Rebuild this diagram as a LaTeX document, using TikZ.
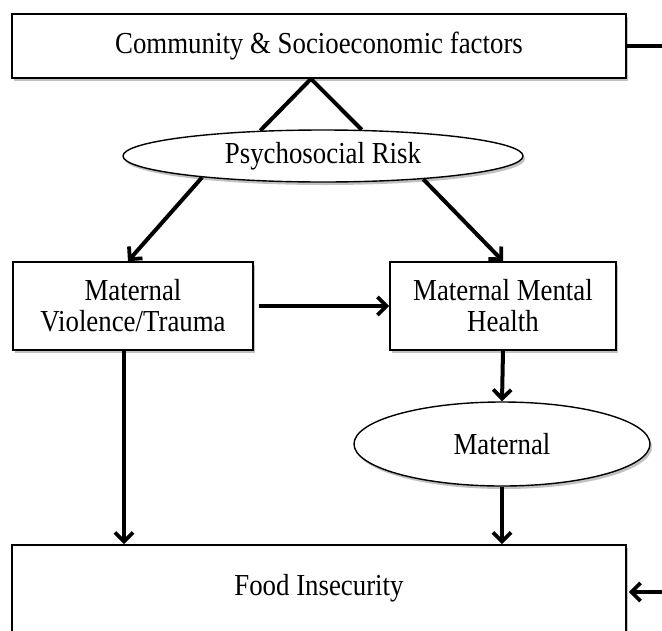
\documentclass[tikz,border=0pt]{standalone}
\usepackage{fontspec}
\setmainfont{Liberation Serif}[FakeStretch=0.88]
\usetikzlibrary{shapes.geometric,shadows,arrows.meta}
\begin{document}
\begin{tikzpicture}[x=1pt,y=-1pt,
  box/.style={draw=black,line width=1.7pt,fill=white,rectangle,align=center,
    drop shadow={shadow xshift=2pt,shadow yshift=-3pt,fill=black!40,opacity=0.6}},
  oval/.style={draw=black,line width=1.4pt,fill=white,ellipse,inner sep=0pt,
    drop shadow={shadow xshift=2pt,shadow yshift=-3pt,fill=black!40,opacity=0.6}},
  conn/.style={line width=4pt},
  arr/.style={line width=4pt,-{Straight Barb[length=9pt,width=18pt,line width=3.8pt]}},
  font=\fontsize{30.5}{31}\selectfont]
\useasboundingbox[fill=white] (0,0) rectangle (662,630);
\node[box,minimum width=614pt,minimum height=64pt] (top) at (319,46) {Community \& Socioeconomic factors};
\node[oval,minimum width=400pt,minimum height=52pt] (psr) at (323,156) {Psychosocial Risk};
\node[box,minimum width=240pt,minimum height=88pt] (mvt) at (133,306) {Maternal\\Violence/Trauma};
\node[box,minimum width=226pt,minimum height=88pt] (mmh) at (503,306) {Maternal Mental\\Health};
\node[oval,minimum width=296pt,minimum height=84pt] (mat) at (502,444) {Maternal};
\node[box,minimum width=614pt,minimum height=90pt,text depth=10pt] (food) at (319,590) {Food Insecurity};
\coordinate (rt) at (662,46);
\coordinate (rb) at (662,592);
% connectors
\draw[conn] ([xshift=-8pt]top.south) -- (psr.158);
\draw[conn] ([xshift=-8pt]top.south) -- (psr.34);
\draw[conn] (top.east) -- (rt);
\draw[arr] (psr.190) -- ([xshift=-5pt]mvt.north);
\draw[arr] (psr.-13) -- (mmh.north);
\draw[arr,shorten <=5pt] (mvt.east) -- (mmh.west);
\draw[arr] (mmh.south) -- (mat.north);
\draw[arr] (mat.south) -- (mat.south |- food.north);
\draw[arr] ([xshift=-9pt]mvt.south) -- ([xshift=-9pt]mvt.south |- food.north);
\draw[arr,shorten >=2pt] (rb) -- (rb -| food.east);
\end{tikzpicture}
\end{document}
